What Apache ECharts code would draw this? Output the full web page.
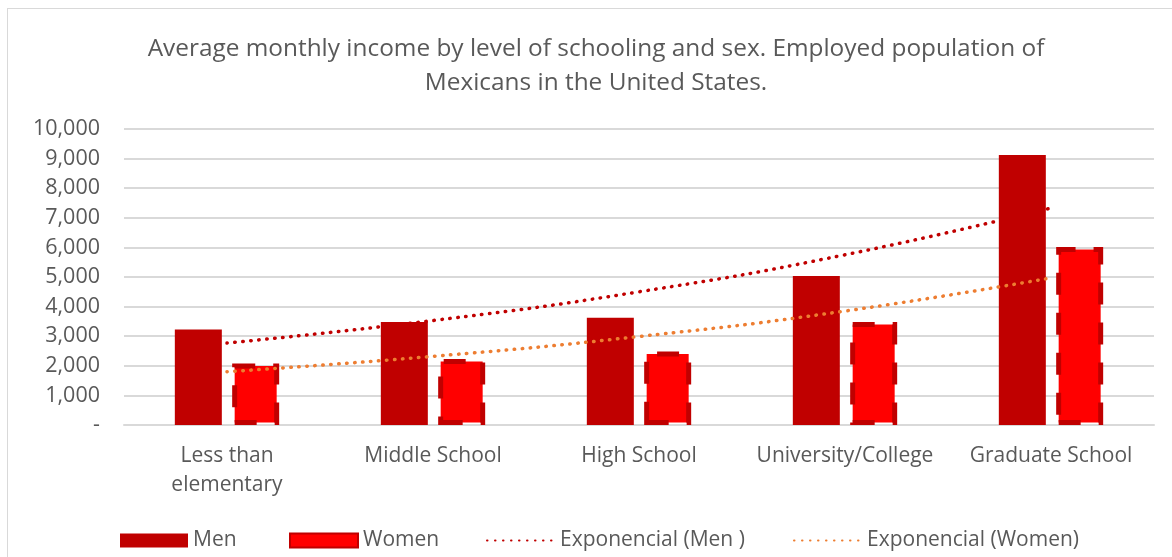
<!DOCTYPE html>
<html>
<head>
<meta charset="utf-8">
<script src="https://cdn.jsdelivr.net/npm/echarts@6/dist/echarts.min.js"></script>
<style>
html,body{margin:0;padding:0;background:#fff;overflow:hidden;}
#frame{position:absolute;left:7px;top:8px;width:1200px;height:600px;border-left:1px solid #D9D9D9;border-top:1px solid #D9D9D9;}
#chart{position:absolute;left:0;top:0;width:1172px;height:557px;}
</style>
</head>
<body>
<div id="frame"></div>
<div id="chart"></div>
<script>
const titleText = 'Average monthly income by level of schooling and sex. Employed population of\nMexicans in the United States.';
const categories = ['Less than\nelementary', 'Middle School', 'High School', 'University/College', 'Graduate School'];
const menValues = [3230, 3480, 3620, 5030, 9120];
const womenValues = [2080, 2230, 2480, 3480, 6010];
const menTrend = [2770, 3530, 4500, 5750, 7330];
const womenTrend = [1800, 2320, 2990, 3850, 4970];
const seriesNames = ['Men', 'Women', 'Exponencial (Men )', 'Exponencial (Women)'];

const FONT = '"Open Sans", "Noto Sans", sans-serif';
const TXT = '#595959';
const chart = echarts.init(document.getElementById('chart'), null, {renderer: 'canvas'});

function legendFor(name, left, icon, hideSymbol) {
  const l = {
    data: [{name: name, icon: icon}], left: left, top: 530,
    itemWidth: 68, itemHeight: 14, padding: 0,
    textStyle: {fontFamily: FONT, fontSize: 21, color: TXT},
    selectedMode: false
  };
  if (hideSymbol) l.itemStyle = {opacity: 0};
  return l;
}

chart.setOption({
  animation: false,
  backgroundColor: 'transparent',
  title: {
    text: titleText, left: 596, textAlign: 'center', top: 32, padding: 0,
    textStyle: {fontFamily: FONT, fontSize: 24.4, fontWeight: 'normal', color: TXT, lineHeight: 34}
  },
  legend: [
    legendFor(seriesNames[0], 120, 'rect', false),
    legendFor(seriesNames[1], 289, 'rect', false),
    legendFor(seriesNames[2], 486, undefined, true),
    legendFor(seriesNames[3], 793, undefined, true)
  ],
  grid: {left: 124, right: 18, top: 129, bottom: 132},
  xAxis: {
    type: 'category', data: categories,
    axisLine: {lineStyle: {color: '#D9D9D9', width: 2}},
    axisTick: {show: false},
    axisLabel: {fontFamily: FONT, fontSize: 21, color: TXT, margin: 17, lineHeight: 29, interval: 0, hideOverlap: false}
  },
  yAxis: {
    type: 'value', min: 0, max: 10000, interval: 1000,
    axisLine: {show: false}, axisTick: {show: false},
    splitLine: {lineStyle: {color: '#D9D9D9', width: 2}},
    axisLabel: {
      fontFamily: FONT, fontSize: 21.5, color: TXT, margin: 24,
      formatter: v => v === 0 ? '-' : v.toLocaleString('en-US')
    }
  },
  series: [
    {
      name: seriesNames[0], type: 'bar', data: menValues,
      barWidth: 47, barGap: '22%',
      itemStyle: {color: '#C00000'}
    },
    {
      name: seriesNames[1], type: 'bar', data: womenValues,
      barWidth: 47,
      itemStyle: {color: '#FF0000', borderColor: '#C00000', borderWidth: 5, borderType: [22, 18]}
    },
    {
      name: seriesNames[2], type: 'line', data: menTrend, smooth: true,
      symbol: 'none', z: 5,
      lineStyle: {color: '#C00000', width: 3.5, type: [0.5, 7.5], cap: 'round'},
      itemStyle: {color: '#C00000'}
    },
    {
      name: seriesNames[3], type: 'line', data: womenTrend, smooth: true,
      symbol: 'none', z: 5,
      lineStyle: {color: '#ED7D31', width: 3.5, type: [0.5, 7.5], cap: 'round'},
      itemStyle: {color: '#ED7D31'}
    }
  ]
});
</script>
</body>
</html>
